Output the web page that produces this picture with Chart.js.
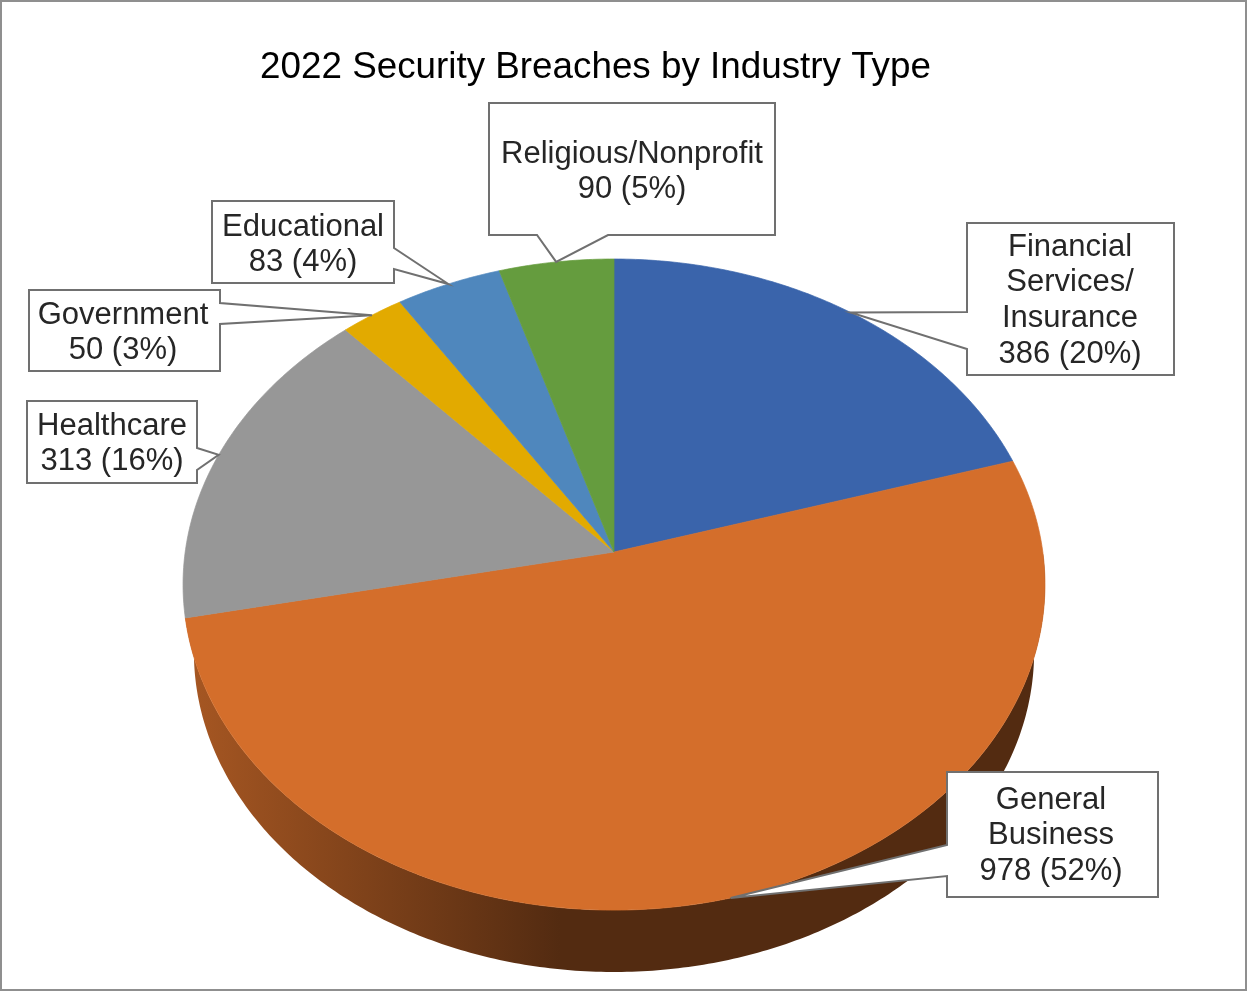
<!DOCTYPE html>
<html>
<head>
<meta charset="utf-8">
<title>2022 Security Breaches by Industry Type</title>
<style>
    html, body { margin: 0; padding: 0; background: #fff; }
    canvas { display: block; }
</style>
<script src="https://cdn.jsdelivr.net/npm/chart.js@4/dist/chart.umd.js"></script>
</head>
<body>
<canvas id="breachChart" width="1247" height="991"></canvas>
<script>
var categories = ['Financial Services/ Insurance', 'General Business', 'Healthcare', 'Government', 'Educational', 'Religious/Nonprofit'];
var categoryLines = [['Financial', 'Services/', 'Insurance'], ['General', 'Business'], ['Healthcare'], ['Government'], ['Educational'], ['Religious/Nonprofit']];
var breachCounts = [386, 978, 313, 50, 83, 90];
var breachPercents = [20, 52, 16, 3, 4, 5];
var sliceColors = ['#3a64ab', '#d46e2b', '#979797', '#e2aa00', '#4f87bd', '#659c3e'];

// Label boxes, same order as the categories. Pointer base runs along one box side.
var calloutBoxes = [
    { x: 967, y: 223, w: 207, h: 152, cx: 1070, lineY: 247, side: 'left', base: [312, 349] },
    { x: 947, y: 772, w: 211, h: 125, cx: 1051, lineY: 800, side: 'left', base: [845, 876] },
    { x: 27, y: 401, w: 170, h: 82, cx: 112, lineY: 426, side: 'right', base: [448, 470] },
    { x: 29, y: 290, w: 191, h: 81, cx: 123, lineY: 315, side: 'right', base: [303, 324] },
    { x: 212, y: 201, w: 182, h: 82, cx: 303, lineY: 227, side: 'right', base: [248, 269] },
    { x: 489, y: 103, w: 286, h: 132, cx: 632, lineY: 154, side: 'bottom', base: [537, 608] }
];
var LINE_HEIGHT = 35.7;

// Top and bottom discs of the pie, in perspective: k shrinks the far side
var topDisc = { cx: 614, cy: 552, a: 428.8, b: 322.3, k: 0.1 };
var bottomDisc = { cx: 614, cy: 620, a: 418, b: 316.8, k: 0.1 };

function project(disc, angle) {
    var u = Math.cos(angle),
        v = -Math.sin(angle),
        d = 1 + disc.k * v;

    return { x: disc.cx + disc.a * u / d, y: disc.cy - disc.b * v / d };
}

function traceRim(ctx, disc, from, to) {
    var steps = Math.max(2, Math.ceil(Math.abs(to - from) * 90));

    for (var i = 0; i <= steps; i++) {
        var p = project(disc, from + (to - from) * i / steps);
        ctx.lineTo(p.x, p.y);
    }
}

function shade(hex, f) {
    var n = parseInt(hex.slice(1), 16);
    return 'rgb(' + Math.round((n >> 16) * f) + ',' + Math.round(((n >> 8) & 255) * f) + ',' + Math.round((n & 255) * f) + ')';
}

// Pie slice drawn as a perspective disc. Only the slice across the front gets a side wall.
class TiltedArc extends Chart.ArcElement {
    static id = 'tiltedArc';

    draw(ctx) {
        var props = this.getProps(['startAngle', 'endAngle']),
            color = this.options.backgroundColor;

        ctx.save();

        if (props.startAngle < Math.PI / 2 && props.endAngle > Math.PI / 2) {
            var wallFrom = Math.max(props.startAngle, 0),
                wall = ctx.createLinearGradient(195, 0, 560, 0);

            wall.addColorStop(0, shade(color, 0.78));
            wall.addColorStop(1, shade(color, 0.39));

            // the bottom rim runs on to the disc's left extreme, the next slice covers the overlap
            ctx.beginPath();
            traceRim(ctx, topDisc, wallFrom, props.endAngle);
            traceRim(ctx, bottomDisc, Math.max(props.endAngle, Math.PI), wallFrom);
            ctx.closePath();
            ctx.fillStyle = wall;
            ctx.fill();
        }

        ctx.beginPath();
        ctx.moveTo(topDisc.cx, topDisc.cy);
        traceRim(ctx, topDisc, props.startAngle, props.endAngle);
        ctx.closePath();
        ctx.fillStyle = color;
        ctx.strokeStyle = color;
        ctx.lineWidth = 0.7;
        ctx.fill();
        ctx.stroke();

        ctx.restore();
    }
}

class TiltedPie extends Chart.PieController {
    static id = 'tiltedPie';
    static defaults = { dataElementType: 'tiltedArc' };
}

Chart.register(TiltedArc, TiltedPie);

function traceCallout(ctx, box, tip) {
    var right = box.x + box.w,
        bottom = box.y + box.h;

    ctx.beginPath();
    ctx.moveTo(box.x, box.y);
    ctx.lineTo(right, box.y);
    if (box.side === 'right') {
        ctx.lineTo(right, box.base[0]);
        ctx.lineTo(tip.x, tip.y);
        ctx.lineTo(right, box.base[1]);
    }
    ctx.lineTo(right, bottom);
    if (box.side === 'bottom') {
        ctx.lineTo(box.base[1], bottom);
        ctx.lineTo(tip.x, tip.y);
        ctx.lineTo(box.base[0], bottom);
    }
    ctx.lineTo(box.x, bottom);
    if (box.side === 'left') {
        ctx.lineTo(box.x, box.base[1]);
        ctx.lineTo(tip.x, tip.y);
        ctx.lineTo(box.x, box.base[0]);
    }
    ctx.closePath();
}

var calloutPlugin = {
    id: 'callouts',
    afterDatasetsDraw: function(chart) {
        var ctx = chart.ctx,
            arcs = chart.getDatasetMeta(0).data;

        ctx.save();
        ctx.textAlign = 'center';
        ctx.textBaseline = 'middle';
        ctx.font = '31px "Liberation Sans"';

        arcs.forEach(function(arc, i) {
            var box = calloutBoxes[i],
                tip = project(topDisc, (arc.startAngle + arc.endAngle) / 2),
                lines = categoryLines[i].concat(breachCounts[i] + ' (' + breachPercents[i] + '%)');

            traceCallout(ctx, box, tip);
            ctx.fillStyle = '#fff';
            ctx.strokeStyle = '#707070';
            ctx.lineWidth = 2;
            ctx.fill();
            ctx.stroke();

            ctx.fillStyle = '#262626';
            lines.forEach(function(line, n) {
                ctx.fillText(line, box.cx, box.lineY + n * LINE_HEIGHT);
            });
        });

        ctx.restore();
    },
    afterDraw: function(chart) {
        var ctx = chart.ctx;

        ctx.save();
        ctx.strokeStyle = '#8f8f8f';
        ctx.lineWidth = 2;
        ctx.strokeRect(1, 1, chart.width - 2, chart.height - 2);
        ctx.restore();
    }
};

Chart.defaults.font.family = '"Liberation Sans"';

var chart = new Chart(document.getElementById('breachChart'), {
    type: 'tiltedPie',
    data: {
        labels: categories,
        datasets: [{
            data: breachCounts,
            backgroundColor: sliceColors,
            borderWidth: 0
        }]
    },
    options: {
        responsive: false,
        animation: false,
        layout: { padding: { right: 56 } },
        plugins: {
            legend: { display: false },
            tooltip: { enabled: false },
            title: {
                display: true,
                text: '2022 Security Breaches by Industry Type',
                color: '#000',
                font: { size: 36.8, weight: 'normal' },
                padding: { top: 46, bottom: 10 }
            }
        }
    },
    plugins: [calloutPlugin]
});
</script>
</body>
</html>
